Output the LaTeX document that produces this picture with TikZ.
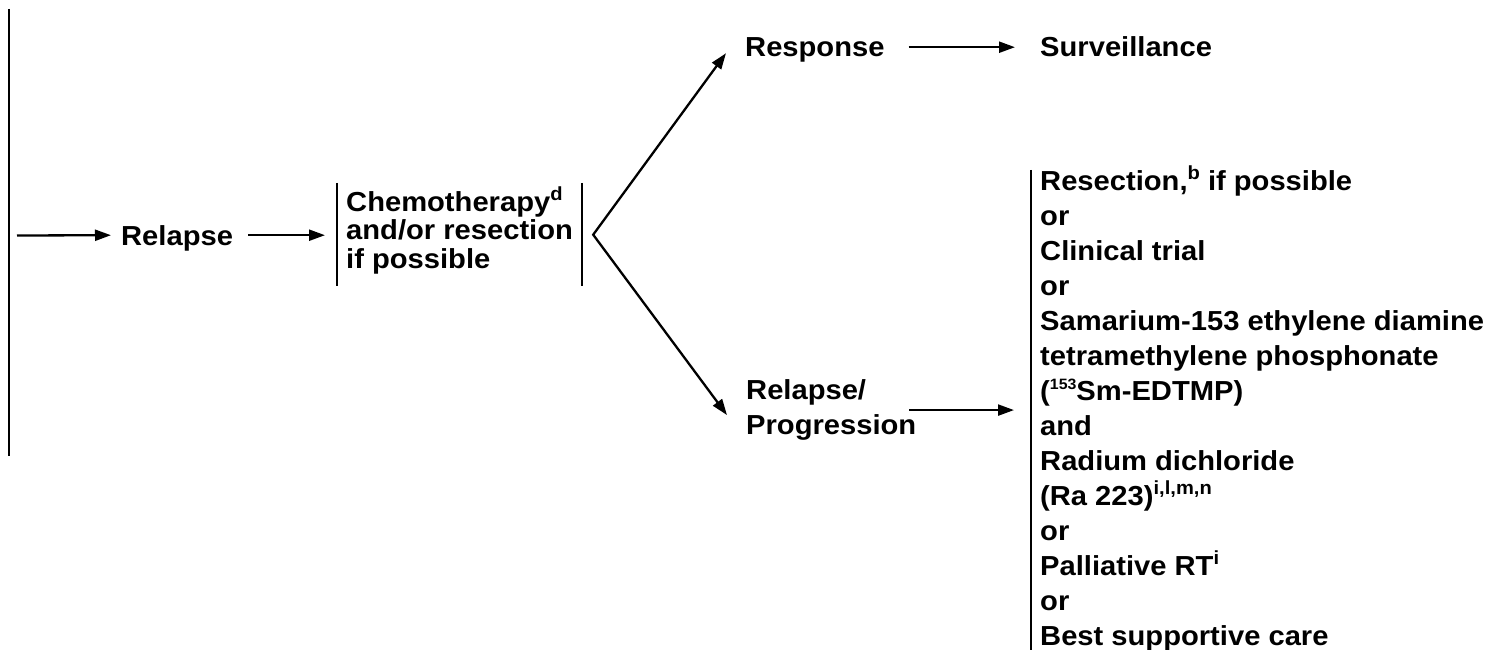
\documentclass[tikz,border=0pt]{standalone}
\usepackage{fontspec}
\setmainfont{Liberation Sans}[FakeStretch=1.06]
\usetikzlibrary{arrows.meta}
\newcommand\sups[2][19]{\raisebox{0.40em}[0pt][0pt]{\fontsize{#1}{#1}\selectfont #2}}
\begin{document}
\begin{tikzpicture}[x=1pt,y=-1pt,
  every node/.style={font=\bfseries\fontsize{27.5}{35.2}\selectfont, inner sep=0pt},
  lbl/.style={anchor=base west, text height=19.6pt, text depth=0pt},
  block/.style={anchor=north west, align=left, inner xsep=9pt, inner ysep=0pt},
  ln/.style={line width=2.3pt},
  arr/.style={line width=2.3pt, -{Triangle[length=16pt,width=11pt]}}]
\fill[white] (0,0) rectangle (1489,650);
\useasboundingbox (0,0) rectangle (1489,650);

% left bar
\coordinate (lt) at (9,9);
\coordinate (lb) at (9,456);
\draw[ln] (lt) -- (lb);
\coordinate (a0) at (17,235.5);

% nodes
\node[lbl] (relapse) at (121,245) {Relapse};
\node[block, font=\bfseries\fontsize{27.5}{28.5}\selectfont] (chemo) at (337,183)
  {\rule{0pt}{28pt}Chemotherapy\sups{d}\\and/or resection\\if possible\rule[-18pt]{0pt}{18pt}};
\node[lbl] (response) at (745,57) {Response};
\node[lbl] (surv) at (1040,57) {Surveillance};
\node[block, inner xsep=0pt] (rp) at (746,379.4) {\rule{0pt}{19.6pt}Relapse/\\Progression};
\node[block, font=\bfseries\fontsize{27.5}{35}\selectfont] (opts) at (1031,170)
  {\rule{0pt}{18pt}Resection,\sups{b} if possible\\
   or\\
   Clinical trial\\
   or\\
   Samarium-153 ethylene diamine\\
   tetramethylene phosphonate\\
   (\sups[15]{153}Sm-EDTMP)\\
   and\\
   Radium dichloride\\
   (Ra 223)\sups{i,l,m,n}\\
   or\\
   Palliative RT\sups{i}\\
   or\\
   Best supportive care\rule[-6pt]{0pt}{6pt}};

% brackets
\draw[ln] (chemo.north west) -- (chemo.south west);
\draw[ln] (chemo.north east) -- (chemo.south east);
\draw[ln] (opts.north west) -- (opts.south west);

% connectors
\draw[arr] (a0) -- ([xshift=-10pt]relapse.west);
\draw[arr] ([xshift=15pt]relapse.east) -- ([xshift=-12pt]relapse.east -| chemo.west);
\coordinate (v) at ([xshift=11pt]chemo.east);
\draw[line width=2.3pt, {Triangle[length=16pt,width=11pt]}-{Triangle[length=16pt,width=11pt]}]
  ([xshift=-19pt,yshift=-6pt]response.west) -- (v) -- ([xshift=-19pt,yshift=-5pt]rp.west);
\draw[arr] ([xshift=24pt]response.east) -- ([xshift=-25pt]surv.west);
\draw[arr] ([xshift=-7pt]rp.east) -- ([xshift=-17pt]rp.east -| opts.west);
\end{tikzpicture}
\end{document}
